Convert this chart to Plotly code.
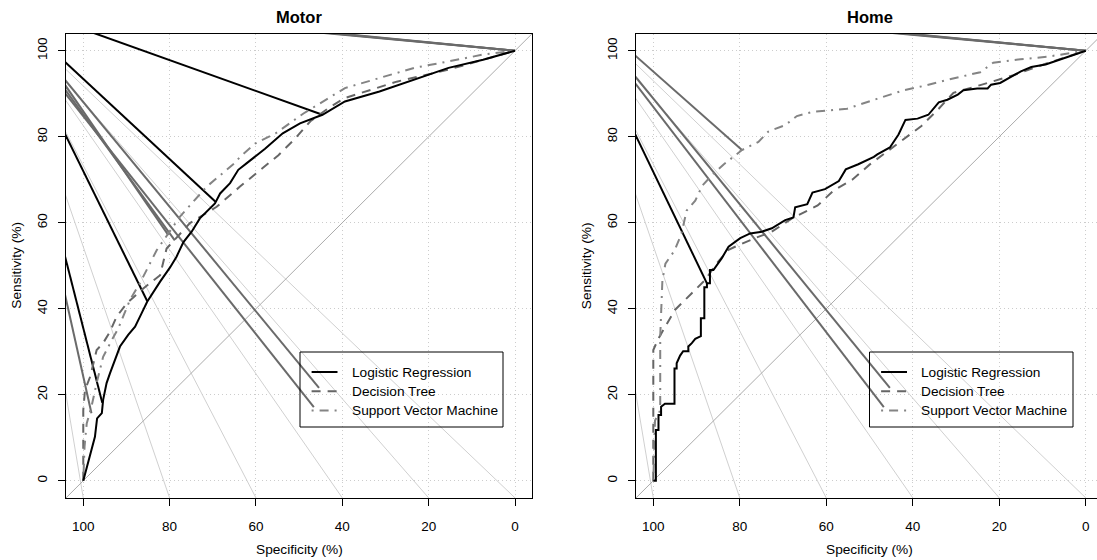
import plotly.graph_objects as go

W, H = 1097, 560
FONT = "Liberation Sans, Arial, sans-serif"

ticks = [0, 20, 40, 60, 80, 100]

# ---------------- Motor data (specificity %, sensitivity %) ----------------
motor_lr_spec = [100, 99.2, 98.1, 97.3, 96.8, 95.7, 95.4, 94.6, 93.8, 92.7, 91.5, 89.6, 88.0, 86.5, 85.2,
                 82.2, 79.9, 78.4, 76.8, 74.9, 73.0, 69.5, 68.3, 66.0, 64.1, 62.2, 60.2, 57.9, 53.8,
                 49.8, 44.6, 39.4, 31.4, 23.4, 15.4, 7.4, 0]
motor_lr_sens = [0, 2.9, 7.1, 10.2, 14.5, 15.7, 18.8, 22.7, 25.0, 28.1, 31.2, 33.9, 35.8, 38.9, 41.6,
                 46.3, 49.6, 52.1, 55.5, 57.9, 61.0, 64.5, 66.8, 69.2, 72.3, 73.8, 75.3, 77.2, 80.8,
                 83.1, 85.1, 88.2, 90.5, 93.2, 96.0, 97.9, 100]
motor_dt_spec = [100, 100, 99.6, 98.4, 96.9, 95.4, 93.8, 92.3, 89.9, 86.1, 82.2, 80.7, 75.3, 69.1, 63.7,
                 54.8, 51.0, 47.4, 43.0, 39.4, 27.4, 15.4, 0]
motor_dt_sens = [0, 16.4, 21.1, 24.2, 30.4, 32.0, 34.7, 38.1, 41.3, 44.7, 47.8, 54.0, 59.9, 63.7, 68.4,
                 75.7, 79.5, 83.6, 86.8, 89.0, 92.8, 95.6, 100]
motor_svm_spec = [100, 99.7, 99.2, 98.1, 96.9, 95.4, 93.4, 91.9, 89.2, 86.9, 83.0, 79.4, 77.6, 71.4,
                  65.0, 63.7, 60.2, 55.4, 49.0, 39.4, 31.4, 23.4, 15.4, 7.4, 0]
motor_svm_sens = [0, 8.0, 13.3, 17.2, 22.7, 28.8, 32.7, 35.4, 42.0, 45.9, 53.6, 59.0, 61.4, 68.4,
                  73.8, 75.3, 78.4, 80.8, 85.4, 91.3, 93.6, 96.0, 97.5, 99.1, 100]

# optimal-threshold lines: point on curve + slope (drawn towards the upper left)
motor_lr_opt_spec = [44.6, 69.3, 85.2, 95.6]
motor_lr_opt_sens = [85.1, 64.8, 41.8, 18.1]
motor_lr_opt_slope = [0.359, 0.933, 2.04, 3.95]
motor_gr_opt_spec = [0, 0, 0, 80.3, 78.8, 98.1, 45.4, 46.6]
motor_gr_opt_sens = [100, 100, 100, 57.1, 55.9, 15.7, 21.6, 17.1]
motor_gr_opt_slope = [0.093, 0.0955, 0.098, 1.46, 1.38, 4.5, 1.217, 1.267]

# light reference lines: bottom-edge crossing (spec) and slope
motor_ref_spec = [0, 20, 40, 60, 80, 100]
motor_ref_slope = [0.958, 1.152, 1.443, 1.932, 2.92, 6.0]

# ---------------- Home data ----------------
home_lr_spec = [100, 99.4, 99.4, 98.8, 98.8, 98.2, 98.2, 97.3, 95.1, 95.1, 94.6, 94.6, 93.8, 93.1, 91.9,
                91.9, 91.1, 90.3, 89.0, 89.0, 88.2, 88.2, 87.6, 87.6, 86.9, 86.9, 86.1, 85.0, 84.2,
                82.6, 79.9, 77.6, 74.9, 72.6, 69.5, 67.6, 67.2, 64.4, 63.2, 60.3, 57.1, 55.5, 52.6,
                49.0, 48.2, 45.3, 43.3, 41.7, 38.9, 36.4, 34.0, 32.0, 29.6, 28.3, 25.1, 22.7, 21.9,
                19.8, 17.4, 15.0, 12.6, 9.3, 6.1, 2.8, 0]
home_lr_sens = [0, 0, 11.8, 11.8, 15.3, 15.3, 17.2, 17.9, 17.9, 26.1, 26.1, 27.3, 29.1, 30.1, 30.1,
                31.2, 32.0, 33.0, 33.6, 37.8, 37.8, 45.0, 45.0, 45.9, 45.9, 49.0, 49.0, 50.5, 51.7,
                54.4, 56.4, 57.5, 57.9, 58.7, 60.6, 61.2, 63.6, 64.3, 67.0, 67.8, 69.7, 72.4, 73.6,
                75.3, 75.9, 77.5, 80.5, 83.9, 84.2, 85.1, 88.0, 88.6, 89.8, 90.8, 91.2, 91.2, 92.1,
                92.5, 93.8, 95.2, 96.2, 96.8, 97.9, 99.1, 100]
home_dt_spec = [100, 100, 98.8, 95.0, 91.1, 88.0, 85.3, 82.6, 81.1, 76.5, 72.6, 67.6, 62.0, 58.3, 54.0,
                50.0, 46.0, 42.0, 38.0, 34.0, 30.6, 24.4, 16.7, 8.9, 0]
home_dt_sens = [0, 30.4, 33.1, 39.7, 43.6, 46.7, 50.6, 53.7, 54.4, 56.4, 57.9, 61.2, 64.0, 67.5, 70.0,
                73.5, 76.5, 79.5, 82.5, 86.5, 90.2, 92.0, 94.3, 97.1, 100]
home_svm_spec = [100, 99.6, 98.4, 98.4, 97.9, 97.2, 95.1, 93.5, 92.3, 90.3, 88.7, 86.2, 83.8, 79.5,
                 75.7, 73.4, 69.5, 66.8, 63.0, 55.2, 48.3, 42.1, 37.5, 32.1, 24.4, 21.4, 15.1, 8.9, 0]
home_svm_sens = [0, 14.0, 16.4, 33.5, 46.5, 50.5, 53.5, 57.4, 62.8, 65.1, 68.6, 71.3, 73.5, 76.9,
                 78.8, 81.2, 82.7, 84.8, 85.8, 86.5, 88.8, 90.8, 91.8, 93.2, 95.0, 97.2, 98.0, 98.6, 100]

home_lr_opt_spec = [87.6]
home_lr_opt_sens = [45.9]
home_lr_opt_slope = [2.09]
home_gr_opt_spec = [0, 0, 0, 79.5, 45.3, 46.7]
home_gr_opt_sens = [100, 100, 100, 76.9, 21.6, 17.1]
home_gr_opt_slope = [0.092, 0.0945, 0.097, 0.89, 1.23, 1.31]

home_ref_spec = [0, 20, 40, 60, 80, 100]
home_ref_slope = [0.97, 1.16, 1.45, 1.94, 2.93, 6.0]

# ---------------- styling ----------------
C_LR = "#000000"
C_DT = "#666666"
C_SVM = "#848484"
C_OPT = "#6a6a6a"
C_REF = "#d0d0d0"
C_DIAG = "#ababab"
DASH_DT = "9px,7px"
DASH_SVM = "2px,6px,9px,6px"

fig = go.Figure()

panels = [
    dict(xa="x", ya="y", lr=(motor_lr_spec, motor_lr_sens), dt=(motor_dt_spec, motor_dt_sens),
         svm=(motor_svm_spec, motor_svm_sens),
         lr_opt=(motor_lr_opt_spec, motor_lr_opt_sens, motor_lr_opt_slope),
         gr_opt=(motor_gr_opt_spec, motor_gr_opt_sens, motor_gr_opt_slope),
         ref=(motor_ref_spec, motor_ref_slope)),
    dict(xa="x2", ya="y2", lr=(home_lr_spec, home_lr_sens), dt=(home_dt_spec, home_dt_sens),
         svm=(home_svm_spec, home_svm_sens),
         lr_opt=(home_lr_opt_spec, home_lr_opt_sens, home_lr_opt_slope),
         gr_opt=(home_gr_opt_spec, home_gr_opt_sens, home_gr_opt_slope),
         ref=(home_ref_spec, home_ref_slope)),
]

FAR = 300.0
for p in panels:
    xa, ya = p["xa"], p["ya"]

    def add_line(x, y, color, width, dash="solid"):
        fig.add_trace(go.Scatter(x=x, y=y, mode="lines", xaxis=xa, yaxis=ya, showlegend=False,
                                 hoverinfo="skip", line=dict(color=color, width=width, dash=dash)))
    # light reference fan lines (crossing the bottom edge at -4)
    for s, m in zip(*p["ref"]):
        add_line([s - 20, s + FAR], [-4 - 20 * m, -4 + FAR * m], C_REF, 1)
    # chance diagonal
    add_line([-20, 120], [120, -20], C_DIAG, 1)
    # optimal-threshold lines
    for s, v, m in zip(*p["gr_opt"]):
        add_line([s, s + FAR], [v, v + FAR * m], C_OPT, 2)
    for s, v, m in zip(*p["lr_opt"]):
        add_line([s, s + FAR], [v, v + FAR * m], C_LR, 2)
    # ROC curves
    add_line(p["dt"][0], p["dt"][1], C_DT, 2, DASH_DT)
    add_line(p["svm"][0], p["svm"][1], C_SVM, 2, DASH_SVM)
    add_line(p["lr"][0], p["lr"][1], C_LR, 2)

# ---------------- axes ----------------
Y0, Y1 = 1 - 497.9 / H, 1 - 33.5 / H
axis_common = dict(showline=True, linecolor="black", linewidth=1, ticks="outside", ticklen=7,
                   tickwidth=1, tickcolor="black", showgrid=True, gridcolor="#cccccc", griddash="1px,3px",
                   gridwidth=1, zeroline=False, tickvals=ticks, ticktext=[str(t) for t in ticks],
                   tickfont=dict(family=FONT, size=13.5, color="black"))
fig.update_layout(
    xaxis=dict(axis_common, domain=[66.0 / W, 532.3 / W], range=[104, -4], mirror=True, anchor="y",
               ticklabelstandoff=9),
    yaxis=dict(axis_common, domain=[Y0, Y1], range=[-4, 104], mirror=True, anchor="x", tickangle=-90,
               ticklabelstandoff=6),
    xaxis2=dict(axis_common, domain=[636.0 / W, 1.0], range=[104, -2.59], mirror=True, anchor="y2",
                ticklabelstandoff=9),
    yaxis2=dict(axis_common, domain=[Y0, Y1], range=[-4, 104], mirror=False, anchor="x2", tickangle=-90,
                ticklabelstandoff=6),
)

# ---------------- text & legends ----------------
ann = []


def px(x, y, text, size=13.7, bold=False, angle=0, xanchor="center"):
    ann.append(dict(x=x / W, y=1 - y / H, xref="paper", yref="paper", text=f"<b>{text}</b>" if bold else text,
                    showarrow=False, textangle=angle, xanchor=xanchor, yanchor="middle",
                    font=dict(family=FONT, size=size, color="black")))


shapes = []
legend_items = [("Logistic Regression", C_LR, "solid"), ("Decision Tree", C_DT, DASH_DT),
                ("Support Vector Machine", C_SVM, DASH_SVM)]
for cx, title, box in [(299.2, "Motor", (300, 352, 503, 427)), (869.5, "Home", (869.5, 352, 1073, 427))]:
    px(cx, 17, title, size=16.5, bold=True)
    px(cx, 549, "Specificity (%)")
    bx0, by0, bx1, by1 = box
    shapes.append(dict(type="rect", xref="paper", yref="paper", x0=bx0 / W, x1=bx1 / W,
                       y0=1 - by1 / H, y1=1 - by0 / H, line=dict(color="black", width=1),
                       fillcolor="rgba(0,0,0,0)"))
    for i, (lab, col, dash) in enumerate(legend_items):
        yy = 372 + i * 19.2
        shapes.append(dict(type="line", xref="paper", yref="paper", x0=(bx0 + 11.6) / W, x1=(bx0 + 37.5) / W,
                           y0=1 - yy / H, y1=1 - yy / H, line=dict(color=col, width=2, dash=dash)))
        px(bx0 + 49.5, yy, lab, xanchor="left")
px(17, 265.7, "Sensitivity (%)", angle=-90)
px(586.5, 265.7, "Sensitivity (%)", angle=-90)

fig.update_layout(width=W, height=H, margin=dict(l=0, r=0, t=0, b=0), paper_bgcolor="white",
                  plot_bgcolor="white", annotations=ann, shapes=shapes, showlegend=False)

fig.write_html("out.html")
